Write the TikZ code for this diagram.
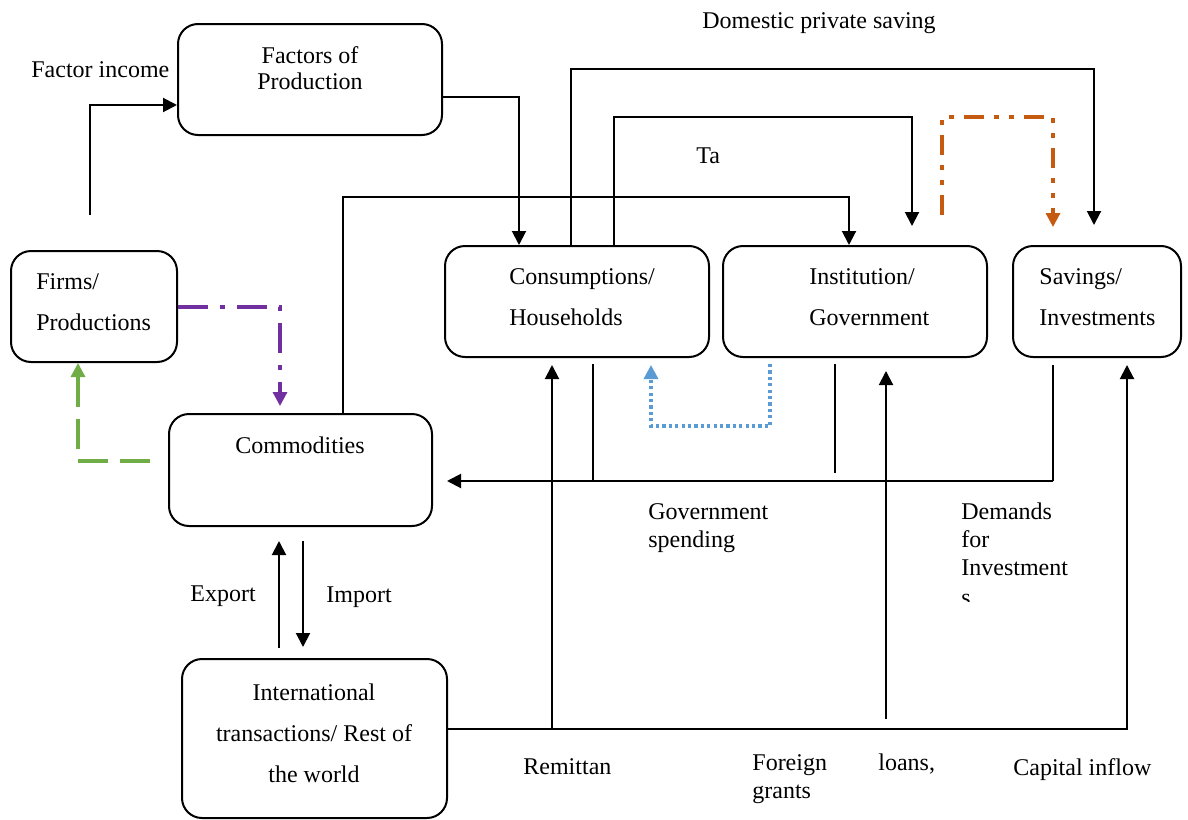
\documentclass[tikz,border=0pt]{standalone}
\usepackage{fontspec}
\setmainfont{Liberation Serif}
\usetikzlibrary{arrows.meta}
\definecolor{ink}{HTML}{000000}
\definecolor{purp}{HTML}{7030A0}
\definecolor{leaf}{HTML}{70AD47}
\definecolor{rust}{HTML}{C55A11}
\definecolor{sky}{HTML}{5B9BD5}

\begin{document}
\begin{tikzpicture}[x=0.5pt,y=-0.5pt,every node/.style={inner sep=0pt,text=ink},
txt/.style={font=\fontsize{12}{14}\selectfont,align=left},
tall/.style={font=\fontsize{12}{20.5}\selectfont,align=left},
box/.style={draw=ink,line width=1pt,rounded corners=10pt},
flow/.style={ink,line width=1pt,-{Triangle[length=7pt,width=7pt]}},
link/.style={ink,line width=.7pt},
purpline/.style={purp,line width=1.6pt,dash pattern=on 15pt off 6pt on 2.5pt off 6pt,-{Triangle[length=7pt,width=7pt]}},
leafline/.style={leaf,line width=1.6pt,dash pattern=on 15pt off 6pt,-{Triangle[length=7pt,width=7pt]}},
rustline/.style={rust,line width=1.6pt,dash pattern=on 10pt off 5pt on 2.5pt off 5pt on 2.5pt off 5pt,-{Triangle[length=7pt,width=7pt]}},
skyline/.style={sky,line width=1.6pt,dash pattern=on 1.6pt off 1.6pt,-{Triangle[length=7pt,width=7pt]}}]
\useasboundingbox (0,0) rectangle (1188,819);
\fill[white] (0,0) rectangle (1188,819);
% boxes
\node[box,minimum width=132pt,minimum height=55.5pt] (fac) at (310,79.5){};
\node[box,minimum width=83pt,minimum height=55.5pt] (firms) at (94,306.5){};
\node[box,minimum width=131.5pt,minimum height=56pt] (comm) at (300.5,470){};
\node[box,minimum width=132pt,minimum height=55.5pt] (hh) at (577,301.5){};
\node[box,minimum width=132pt,minimum height=55.5pt] (gov) at (855,301.5){};
\node[box,minimum width=84pt,minimum height=55.5pt] (sav) at (1097,301.5){};
\node[box,minimum width=132.5pt,minimum height=79.5pt] (row) at (314.5,738.5){};
% box texts (base = last line)
\node[font=\fontsize{12}{13}\selectfont,align=center,anchor=base] (factxt) at (310,89){Factors of\\Production};
\node[tall,anchor=base west] (firmstxt) at (36,330){Firms/\\Productions};
\node[txt,anchor=base] (commtxt) at (300,453){Commodities};
\node[tall,anchor=base west] (hhtxt) at (509,325){Consumptions/\\Households};
\node[tall,anchor=base west] (govtxt) at (809,325){Institution/\\Government};
\node[tall,anchor=base west] (savtxt) at (1039,325){Savings/\\Investments};
\node[tall,align=center,anchor=base] (rowtxt) at (314,782){International\\transactions/ Rest of\\the world};
% free ends
\coordinate (fi) at (90,215);\coordinate (ds) at (1094,225);\coordinate (ta) at (912,226);
\coordinate (rs) at (942,215);\coordinate (re) at (1053,227);
\coordinate (sp) at (1053,481);\coordinate (rm) at (552,729);
\coordinate (ln) at (886,719);\coordinate (lt) at (886,371);
% flows
\draw[flow] (fi) |- (fac.west |- 0,105);
\draw[flow] (fac.east |- 0,97) -| (hh.north -| 519,0);
\draw[flow] (hh.north -| 571,0) |- (ds |- 0,69) -- (ds);
\draw[flow] (hh.north -| 614,0) |- (ta |- 0,117) -- (ta);
\draw[flow] (comm.north -| 343,0) |- (849,197) -- (gov.north -| 849,0);
\draw[rustline] (rs) |- (re |- 0,117) -- (re);
\draw[purpline,shorten >=3.5pt] (firms.east |- 0,307) -| (comm.north -| 280,0);
\draw[leafline,shorten <=9pt] (comm.west |- 0,461) -| (firms.south -| 78,0);
\draw[skyline,shorten <=3pt,shorten >=3.5pt] (gov.south -| 770,0) |- (651,426) -- (hh.south -| 651,0);
\draw[link,shorten <=3pt] (hh.south -| 593,0) -- (593,481);
\draw[link,shorten <=3pt] (gov.south -| 835,0) -- (835,473);
\draw[link,shorten <=3.5pt] (sav.south -| 1053,0) -- (sp);
\draw[flow,shorten >=7pt] (sp) -- (comm.east |- sp);
\draw[flow,shorten <=5pt,shorten >=7pt] (row.north -| 279,0) -- (comm.south -| 279,0);
\draw[flow,shorten <=7pt,shorten >=5.5pt] (comm.south -| 303,0) -- (row.north -| 303,0);
\draw[flow,shorten >=3.5pt] (row.east |- rm) -| (sav.south -| 1127,0);
\draw[flow,shorten >=3.5pt] (rm) -- (hh.south -| rm);
\draw[flow] (ln) -- (lt);
% labels
\node[txt,anchor=base west] (incomelbl) at (31,77){Factor income};
\node[txt,anchor=base west] (savinglbl) at (702,28){Domestic private saving};
\node[txt,anchor=base west] (talbl) at (696,163){Ta};
\node[txt,anchor=base west] (exportlbl) at (190,601){Export};
\node[txt,anchor=base west] (importlbl) at (326,602){Import};
\node[txt,anchor=base west] (spendlbl) at (648,547){Government\\spending};
\node[txt,anchor=base west] (demandlbl) at (961,575){Demands\\for\\Investment};
\begin{scope}\clip (950,586) rectangle (1080,601);\node[txt,anchor=base west] (demandcut) at (961,605){s};\end{scope}
\node[txt,anchor=base west] (remitlbl) at (523,774){Remittan};
\node[txt,anchor=base west] (grantlbl) at (752,798){Foreign\\grants};
\node[txt,anchor=base west] (loanlbl) at (878,770){loans,};
\node[txt,anchor=base west] (capitallbl) at (1013,775){Capital inflow};
\end{tikzpicture}
\end{document}
